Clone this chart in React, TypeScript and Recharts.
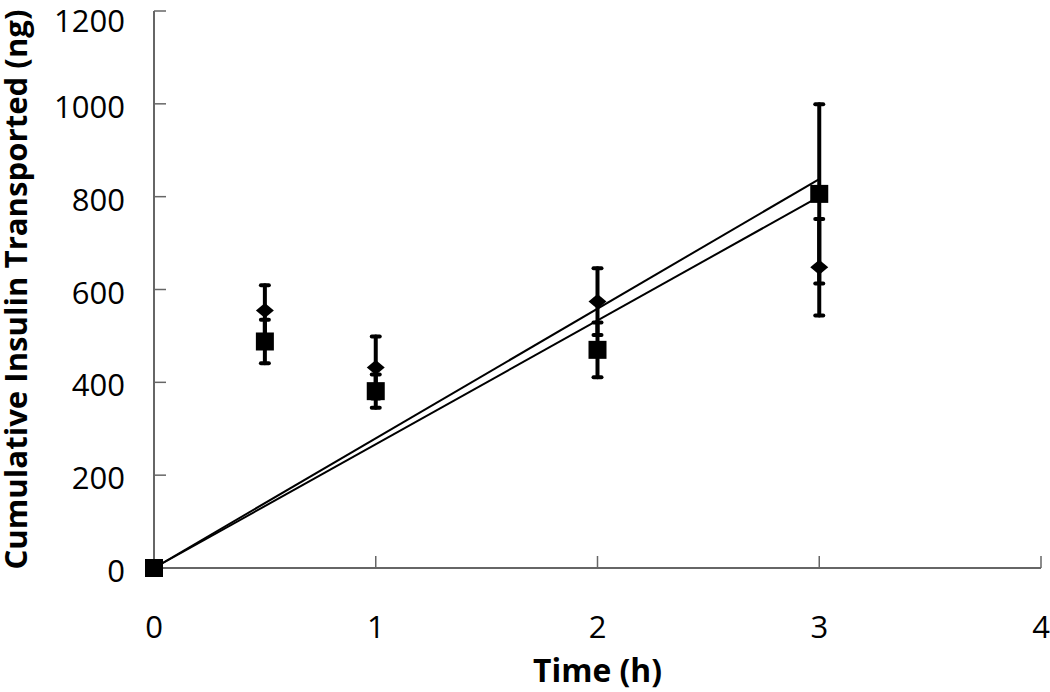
import React from 'react';
import { ScatterChart, Scatter, XAxis, YAxis, ErrorBar } from 'recharts';

const times = [0, 0.5, 1, 2, 3];
const diamondValues = [0, 555, 432, 574, 648];
const diamondErrors = [0, 54, 67, 72, 104];
const squareValues = [0, 488, 381, 470, 806];
const squareErrors = [0, 47, 36, 59, 193];
const fitTimes = [0, 3];
const squareFit = [0, 838];
const diamondFit = [0, 800];
const xTicks = [0, 1, 2, 3, 4];
const yTicks = [0, 200, 400, 600, 800, 1000, 1200];

const diamondData = times.map((t, i) => ({ x: t, y: diamondValues[i], err: diamondErrors[i] }));
const squareData = times.map((t, i) => ({ x: t, y: squareValues[i], err: squareErrors[i] }));
const squareFitData = fitTimes.map((t, i) => ({ x: t, y: squareFit[i] }));
const diamondFitData = fitTimes.map((t, i) => ({ x: t, y: diamondFit[i] }));

const Diamond = (props: any) => {
  const { cx, cy } = props;
  if (cx == null || cy == null) return <g />;
  return (
    <polygon
      points={`${cx - 9},${cy} ${cx},${cy - 7.5} ${cx + 9},${cy} ${cx},${cy + 7.5}`}
      fill="#000"
    />
  );
};

const Square = (props: any) => {
  const { cx, cy } = props;
  if (cx == null || cy == null) return <g />;
  return <rect x={cx - 9} y={cy - 9} width={18} height={18} fill="#000" />;
};

const NoShape = () => <g />;

const xTickFont = { fontFamily: 'Open Sans, sans-serif', fontSize: 31, fill: '#000' };
const yTickFont = { fontFamily: 'Open Sans, sans-serif', fontSize: 31, fill: '#000', dy: 3 };

const YLabel = (props: any) => {
  const vb = props.viewBox || {};
  const cy = (vb.y ?? 0) + (vb.height ?? 0) / 2;
  return (
    <text
      transform={`translate(27, ${cy}) rotate(-90)`}
      textAnchor="middle"
      fontFamily="Open Sans, sans-serif"
      fontWeight="bold"
      fontSize={31}
      fill="#000"
      textLength={560}
      lengthAdjust="spacingAndGlyphs"
    >
      Cumulative Insulin Transported (ng)
    </text>
  );
};

const XLabel = (props: any) => {
  const vb = props.viewBox || {};
  const cx = (vb.x ?? 0) + (vb.width ?? 0) / 2;
  return (
    <text
      x={cx}
      y={682}
      textAnchor="middle"
      fontFamily="Open Sans, sans-serif"
      fontWeight="bold"
      fontSize={33}
      fill="#000"
      textLength={129}
      lengthAdjust="spacingAndGlyphs"
    >
      Time (h)
    </text>
  );
};

export default function App() {
  return (
    <div style={{ position: 'absolute', left: 0, top: 0, background: '#fff' }}>
      <ScatterChart width={1050} height={692} margin={{ top: 11, right: 9, bottom: 0, left: 0 }}>
        <XAxis
          type="number"
          dataKey="x"
          domain={[0, 4]}
          ticks={xTicks}
          height={124}
          tickSize={-12}
          tickMargin={60}
          axisLine={{ stroke: '#666', strokeWidth: 2 }}
          tickLine={{ stroke: '#666', strokeWidth: 1.5 }}
          tick={xTickFont}
          label={<XLabel />}
          allowDecimals={false}
        />
        <YAxis
          type="number"
          dataKey="y"
          domain={[0, 1200]}
          ticks={yTicks}
          width={154}
          tickSize={-12}
          tickMargin={41}
          axisLine={{ stroke: '#666', strokeWidth: 2 }}
          tickLine={{ stroke: '#666', strokeWidth: 1.5 }}
          tick={yTickFont}
          label={<YLabel />}
        />
        <Scatter
          data={squareFitData}
          line={{ stroke: '#000', strokeWidth: 2 }}
          shape={NoShape}
          isAnimationActive={false}
        />
        <Scatter
          data={diamondFitData}
          line={{ stroke: '#000', strokeWidth: 2 }}
          shape={NoShape}
          isAnimationActive={false}
        />
        <Scatter data={diamondData} shape={Diamond} isAnimationActive={false}>
          <ErrorBar dataKey="err" direction="y" width={4} strokeWidth={4} stroke="#000" strokeLinecap="round" isAnimationActive={false} />
        </Scatter>
        <Scatter data={squareData} shape={Square} isAnimationActive={false}>
          <ErrorBar dataKey="err" direction="y" width={4} strokeWidth={4} stroke="#000" strokeLinecap="round" isAnimationActive={false} />
        </Scatter>
      </ScatterChart>
    </div>
  );
}
